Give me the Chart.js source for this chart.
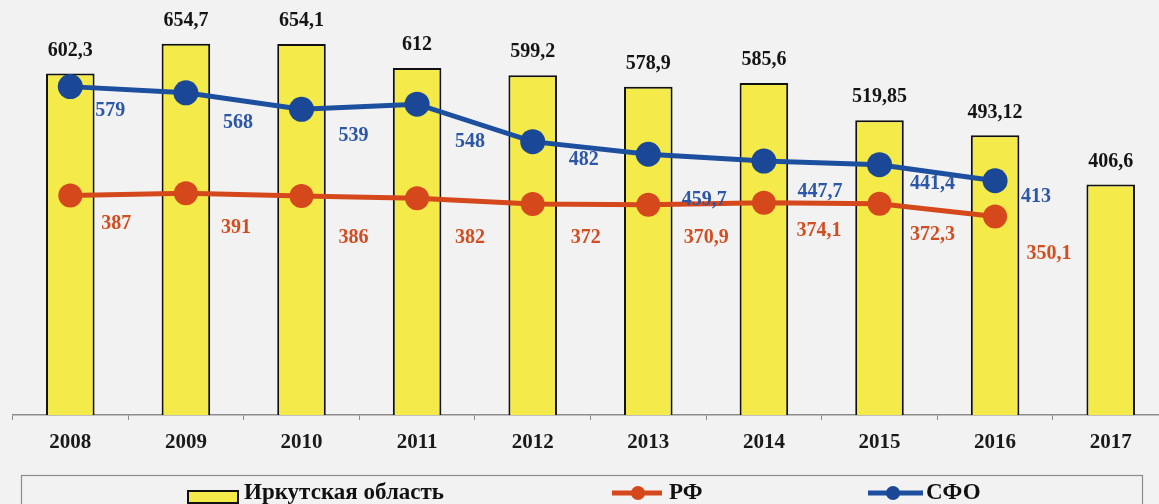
<!DOCTYPE html>
<html>
<head>
<meta charset="utf-8">
<script src="https://cdn.jsdelivr.net/npm/chart.js@4/dist/chart.umd.min.js"></script>
<style>
  html, body { margin: 0; padding: 0; background: #f2f2f2; width: 1159px; height: 504px; overflow: hidden; }
  canvas { display: block; }
</style>
</head>
<body>
<canvas id="c" width="1181" height="504"></canvas>
<script>
// ---- data ----
const years = ['2008', '2009', '2010', '2011', '2012', '2013', '2014', '2015', '2016', '2017'];
const irkutsk = [602.3, 654.7, 654.1, 612, 599.2, 578.9, 585.6, 519.85, 493.12, 406.6];
const rf = [387, 391, 386, 382, 372, 370.9, 374.1, 372.3, 350.1, null];
const sfo = [579, 568, 539, 548, 482, 459.7, 447.7, 441.4, 413, null];
const seriesNames = ['Иркутская область', 'РФ', 'СФО'];

// ---- label placement (offsets from each point, in px) ----
const sfoLabelShift = [[40, 24], [52, 30], [52, 27], [53, 38], [51, 18], [56, 46], [56, 31], [53, 19], [41, 16]];
const rfLabelShift = [[46, 28], [50, 35], [52, 42], [53, 39], [53, 34], [58, 33], [55, 28], [53, 31], [54, 37]];

const COL_BAR = '#f4ea4a';
const COL_RF = '#d4481c';
const COL_SFO = '#1d4f9f';
const SERIF = '"Liberation Serif", "Times New Roman", serif';

const fmt = v => String(v).replace('.', ',');

const labelsPlugin = {
  id: 'valueLabels',
  afterDatasetsDraw(chart) {
    const ctx = chart.ctx;
    ctx.save();
    ctx.font = 'bold 20px ' + SERIF;
    ctx.textAlign = 'center';
    ctx.textBaseline = 'middle';
    const barMeta = chart.getDatasetMeta(0);
    barMeta.data.forEach((el, i) => {
      ctx.fillStyle = '#151515';
      ctx.fillText(fmt(irkutsk[i]), el.x, el.y - 23);
    });
    const lineDefs = [[1, rf, rfLabelShift, '#d24e20'], [2, sfo, sfoLabelShift, '#2c56a6']];
    lineDefs.forEach(([idx, vals, shifts, col]) => {
      const meta = chart.getDatasetMeta(idx);
      meta.data.forEach((el, i) => {
        if (vals[i] == null) return;
        ctx.fillStyle = col;
        ctx.fillText(fmt(vals[i]), el.x + shifts[i][0], el.y + shifts[i][1]);
      });
    });
    ctx.restore();
  }
};

const legendPlugin = {
  id: 'customLegend',
  afterDraw(chart) {
    const ctx = chart.ctx;
    const ds = chart.data.datasets;
    ctx.save();
    ctx.strokeStyle = '#8c8c8c';
    ctx.lineWidth = 1.2;
    ctx.strokeRect(21.5, 475.5, 1121, 40);
    ctx.font = 'bold 23px ' + SERIF;
    ctx.textAlign = 'left';
    ctx.textBaseline = 'middle';
    const cy = 493;
    ctx.fillStyle = ds[0].backgroundColor;
    ctx.strokeStyle = '#111';
    ctx.lineWidth = 2;
    ctx.fillRect(188, 491, 50, 12);
    ctx.strokeRect(188, 491, 50, 12);
    ctx.fillStyle = '#111';
    ctx.fillText(ds[0].label, 244, cy);
    const items = [[1, 612, 662, 638, 669], [2, 868, 923, 893, 926]];
    items.forEach(([i, x1, x2, cx, tx]) => {
      ctx.strokeStyle = ds[i].borderColor;
      ctx.lineWidth = 5;
      ctx.beginPath();
      ctx.moveTo(x1, cy);
      ctx.lineTo(x2, cy);
      ctx.stroke();
      ctx.fillStyle = ds[i].pointBackgroundColor;
      ctx.beginPath();
      ctx.arc(cx, cy, 7, 0, Math.PI * 2);
      ctx.fill();
      ctx.fillStyle = '#111';
      ctx.fillText(ds[i].label, tx, cy);
    });
    ctx.restore();
  }
};

new Chart(document.getElementById('c'), {
  data: {
    labels: years,
    datasets: [
      {
        type: 'bar',
        label: seriesNames[0],
        data: irkutsk,
        backgroundColor: COL_BAR,
        borderColor: '#111',
        borderWidth: 2,
        barPercentage: 0.42,
        categoryPercentage: 1,
        order: 3
      },
      {
        type: 'line',
        label: seriesNames[1],
        data: rf,
        borderColor: COL_RF,
        borderWidth: 5,
        pointBackgroundColor: COL_RF,
        pointBorderColor: COL_RF,
        pointRadius: 12,
        pointBorderWidth: 0,
        tension: 0,
        order: 2
      },
      {
        type: 'line',
        label: seriesNames[2],
        data: sfo,
        borderColor: COL_SFO,
        borderWidth: 5,
        pointBackgroundColor: '#1a4896',
        pointBorderColor: '#1a4896',
        pointRadius: 12.5,
        pointBorderWidth: 0,
        tension: 0,
        order: 1
      }
    ]
  },
  options: {
    responsive: false,
    devicePixelRatio: 1,
    animation: false,
    layout: { padding: { left: 11, right: 0, top: 18, bottom: 0 } },
    plugins: {
      legend: { display: false },
      tooltip: { enabled: false }
    },
    scales: {
      x: {
        offset: true,
        grid: {
          display: true,
          offset: true,
          drawOnChartArea: false,
          drawTicks: true,
          tickLength: 5,
          color: '#8c8c8c',
          lineWidth: 1
        },
        border: { display: true, color: '#8c8c8c', width: 1.5 },
        ticks: {
          color: '#1a1a1a',
          font: { family: SERIF, size: 21, weight: 'bold' },
          padding: 10,
          maxRotation: 0
        },
        afterFit(scale) { scale.height = 89; }
      },
      y: {
        display: false,
        min: 0,
        max: 700
      }
    }
  },
  plugins: [labelsPlugin, legendPlugin]
});
</script>
</body>
</html>
